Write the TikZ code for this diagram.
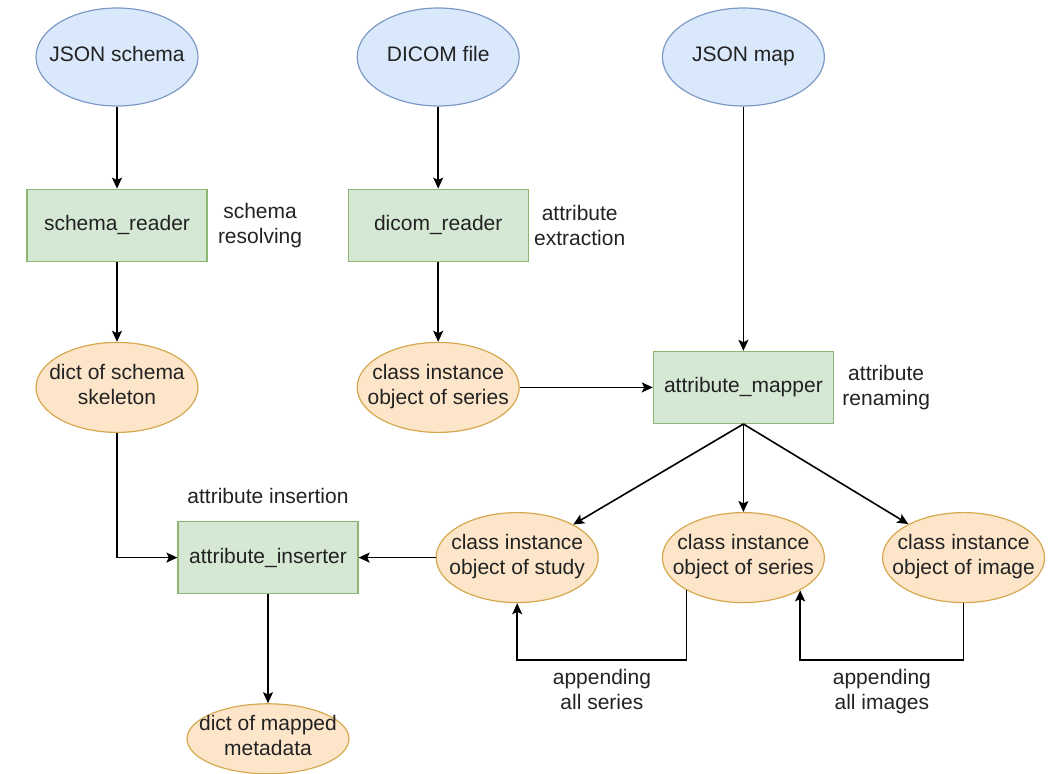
\documentclass[tikz,border=0pt]{standalone}
\usepackage{fontspec}
\setmainfont{Liberation Sans}
\usepackage{xcolor}
\usepackage{tikz}
\usetikzlibrary{shapes,arrows.meta,positioning}
\newcommand{\elltxt}[1]{\smash{\makebox[0pt]{\raisebox{-2.5pt}{\begin{tabular}{@{}c@{}}#1\end{tabular}}}}}
\definecolor{srcfill}{HTML}{DAE8FC}
\definecolor{srcline}{HTML}{7D9AC6}
\definecolor{procfill}{HTML}{D5E8D4}
\definecolor{procline}{HTML}{8DB573}
\definecolor{datafill}{HTML}{FDE5CA}
\definecolor{dataline}{HTML}{D6A84E}
\definecolor{ink}{HTML}{222222}
\tikzstyle{src} = [ellipse, draw=srcline, line width=0.6pt, fill=srcfill, text=ink, minimum width=81pt, minimum height=49pt, inner sep=0pt]
\tikzstyle{proc} = [rectangle, draw=procline, line width=0.6pt, fill=procfill, text=ink, minimum width=90pt, minimum height=36pt]
\tikzstyle{data} = [ellipse, draw=dataline, line width=0.6pt, fill=datafill, text=ink, minimum width=81pt, minimum height=45pt, inner sep=0pt]
\tikzstyle{textonly} = [draw=none, fill=none, text=ink, align=center, inner sep=0pt]
\tikzstyle{tedge}  = [draw, line width=0.8pt, >={Stealth[length=5.5pt,width=5pt,inset=1.2pt]}, ->]

\begin{document}
\begin{tikzpicture}[auto, font=\fontsize{10.5}{12.6}\selectfont]
\useasboundingbox (0,0) rectangle (528pt,-386.5pt);

% inputs =============================
\node[src] (jschema) at (58.5pt,-28.5pt) {\elltxt{JSON schema}};
\node[src, right=79pt of jschema] (dicom) {\elltxt{DICOM file}};
\node[src, right=71pt of dicom] (jmap) {\elltxt{JSON map}};

% readers
\node[proc, below=41pt of jschema] (sreader) {schema\_reader};
\node[proc, below=41pt of dicom] (dreader) {dicom\_reader};

\node[textonly, right=5pt of sreader] (sres) {schema\\resolving};
\node[textonly, right=2.5pt of dreader] (aext) {attribute\\extraction};

% intermediate results
\node[data, below=40pt of sreader] (skel) {\elltxt{dict of schema\\skeleton}};
\node[data, below=40pt of dreader] (ser1) {\elltxt{class instance\\object of series}};

% mapper
\node[proc, right=66.5pt of ser1] (mapper) {attribute\_mapper};
\node[textonly, right=4pt of mapper] (aren) {attribute\\renaming};

% mapped objects
\node[data, below=44pt of mapper] (ser2) {\elltxt{class instance\\object of series}};
\node[data, left=31.5pt of ser2] (study) {\elltxt{class instance\\object of study}};
\node[data, right=28.5pt of ser2] (image) {\elltxt{class instance\\object of image}};

% inserter
\node[proc, left=38.5pt of study] (inserter) {attribute\_inserter};
\node[textonly, above=8.5pt of inserter] (ains) {attribute insertion};
\node[data, minimum height=35pt, below=54.5pt of inserter] (mapped) {\elltxt{dict of mapped\\metadata}};

\coordinate[below=28.5pt of ser2.south] (loop);

% edges
\path[tedge] (jschema) -- (sreader);
\path[tedge] (sreader) -- (skel);
\path[tedge] (dicom) -- (dreader);
\path[tedge] (dreader) -- (ser1);
\path[tedge] (jmap) -- (mapper);
\path[tedge] (ser1) -- (mapper);

\path[tedge] (mapper.south) -- (study);
\path[tedge] (mapper) -- (ser2);
\path[tedge] (mapper.south) -- (image);

\path[tedge] (skel) |- (inserter);
\path[tedge] (study) -- (inserter);
\path[tedge] (inserter) -- (mapped);

% appending loops
\path[tedge] (ser2.210) -- (ser2.210 |- loop) -| node[textonly, pos=0.25, below=4pt] {appending\\all series} (study.south);
\path[tedge] (image.south) -- (image.south |- loop) -| node[textonly, pos=0.25, below=4pt] {appending\\all images} (ser2.330);

\end{tikzpicture}
\end{document}
